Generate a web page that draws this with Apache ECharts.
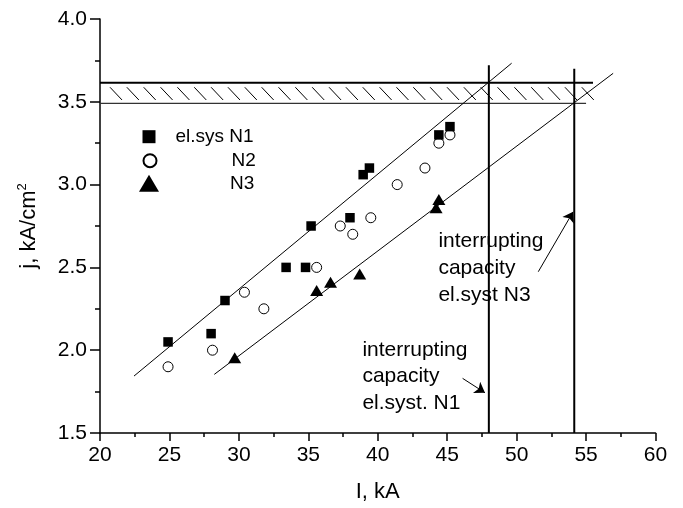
<!DOCTYPE html>
<html><head><meta charset="utf-8">
<script src="https://cdn.jsdelivr.net/npm/echarts@6/dist/echarts.min.js"></script>
<style>html,body{margin:0;padding:0;background:#fff}#c{width:683px;height:508px}</style>
</head><body><div id="c"></div>
<script>
// ---- data ----
const n1I = [24.9, 28.0, 29.0, 33.4, 34.8, 35.2, 38.0, 38.95, 39.4, 44.4, 45.2];
const n1J = [2.05, 2.10, 2.30, 2.50, 2.50, 2.75, 2.80, 3.06, 3.10, 3.30, 3.35];
const n2I = [24.9, 28.1, 30.4, 31.8, 35.6, 37.3, 38.2, 39.5, 41.4, 43.4, 44.4, 45.2];
const n2J = [1.90, 2.00, 2.35, 2.25, 2.50, 2.75, 2.70, 2.80, 3.00, 3.10, 3.25, 3.30];
const n3I = [29.7, 35.6, 36.6, 38.7, 44.2, 44.4];
const n3J = [1.955, 2.36, 2.41, 2.46, 2.86, 2.91];
const fit1I = [22.45, 49.64], fit1J = [1.844, 3.733];
const fit2I = [28.23, 56.95], fit2J = [1.854, 3.672];
const bandJ = [3.49, 3.615];
const bandTopI = [20, 55.5], bandBottomI = [20, 55.0];
const capI = [48.0, 54.15], capTopJ = [3.72, 3.70];
const arrowN1I = [46.11, 47.72], arrowN1J = [1.83, 1.743];
const arrowN3I = [51.56, 54.07], arrowN3J = [2.474, 2.836];
const noteN1 = {i: 38.86, j: 1.84, text: 'interrupting\ncapacity\nel.syst. N1'};
const noteN3 = {i: 44.33, j: 2.495, text: 'interrupting\ncapacity\nel.syst N3'};
const seriesNames = ['el.sys N1', 'N2', 'N3'];

const zip = (a, b) => a.map((v, k) => [v, b[k]]);
const FONT = "'Liberation Sans', Arial, sans-serif";

const chart = echarts.init(document.getElementById('c'), null, {renderer: 'canvas'});
const segLine = (data, width, color) => ({
  type: 'line', data, symbol: 'none', silent: true, z: 1, animation: false,
  lineStyle: {color: color || '#000', width: width, opacity: 1}
});
const note = (n) => ({
  type: 'scatter', data: [[n.i, n.j]], symbolSize: 1, silent: true,
  itemStyle: {color: '#fff', opacity: 1},
  label: {show: true, position: 'right', distance: 0, formatter: n.text, color: '#000', opacity: 1,
    fontFamily: FONT, fontSize: 21, lineHeight: 26.7, align: 'left'}
});
const legendBase = (name, top, w, h, pad) => ({
  data: [name], orient: 'vertical', left: 149 - w / 2, top: top, padding: 0,
  itemWidth: w, itemHeight: h, selectedMode: false,
  textStyle: {fontFamily: FONT, fontSize: 19, color: '#000', lineHeight: 20, padding: [0, 0, 0, pad]}
});

chart.setOption({
  animation: false,
  backgroundColor: '#fff',
  grid: {left: 100, right: 27.5, top: 19, bottom: 75},
  legend: [
    legendBase(seriesNames[0], 126.7, 13, 13, 15),
    legendBase(seriesNames[1], 150.7, 13, 13, 70),
    legendBase(seriesNames[2], 173.3, 20, 17, 66)
  ],
  xAxis: {
    type: 'value', min: 20, max: 60, interval: 5,
    name: 'I, kA', nameLocation: 'middle', nameGap: 48,
    nameTextStyle: {fontFamily: FONT, fontSize: 22, color: '#000'},
    axisLine: {lineStyle: {color: '#000', width: 1.5}},
    axisTick: {length: 8, lineStyle: {color: '#000', width: 1.5}},
    minorTick: {show: true, splitNumber: 2, length: 4, lineStyle: {color: '#000', width: 1.5}},
    axisLabel: {fontFamily: FONT, fontSize: 21, color: '#000', margin: 12},
    splitLine: {show: false}
  },
  yAxis: {
    type: 'value', min: 1.5, max: 4.0, interval: 0.5,
    name: 'j, kA/cm{s|2}', nameLocation: 'middle', nameGap: 58,
    nameTextStyle: {fontFamily: FONT, fontSize: 22, color: '#000', lineHeight: 26,
      rich: {s: {fontFamily: FONT, fontSize: 13, color: '#000', lineHeight: 13, verticalAlign: 'top'}}},
    axisLine: {show: true, lineStyle: {color: '#000', width: 1.5}},
    axisTick: {show: true, length: 10, lineStyle: {color: '#000', width: 1.5}},
    minorTick: {show: true, splitNumber: 2, length: 5, lineStyle: {color: '#000', width: 1.5}},
    axisLabel: {fontFamily: FONT, fontSize: 21, color: '#000', margin: 13,
      formatter: v => v.toFixed(1)},
    splitLine: {show: false}
  },
  series: [
    {
      type: 'custom', silent: true, z: 1, clip: false,
      encode: {x: [0, 1], y: [2, 3]},
      data: [[bandTopI[0], bandTopI[1], bandJ[0], bandJ[1]]],
      renderItem: (params, api) => {
        const tl = api.coord([api.value(0), api.value(3)]);
        const br = api.coord([api.value(1), api.value(2)]);
        const children = [];
        for (let x = tl[0] + 10; x <= br[0] - 10; x += 16.85) {
          children.push({type: 'line',
            shape: {x1: x, y1: tl[1] + 4.5, x2: x + 12, y2: br[1] - 3.5},
            style: {stroke: '#000', lineWidth: 1}});
        }
        return {type: 'group', children};
      }
    },
    segLine(zip(bandTopI, [bandJ[1], bandJ[1]]), 2),
    segLine(zip(bandBottomI, [bandJ[0], bandJ[0]]), 1.2, '#333'),
    segLine([[capI[0], 1.5], [capI[0], capTopJ[0]]], 2),
    segLine([[capI[1], 1.5], [capI[1], capTopJ[1]]], 2),
    segLine(zip(fit1I, fit1J), 1),
    segLine(zip(fit2I, fit2J), 1),
    {
      type: 'lines', coordinateSystem: 'cartesian2d', silent: true, z: 2,
      symbol: ['none', 'arrow'], symbolSize: 10,
      lineStyle: {color: '#000', width: 1, opacity: 1},
      data: [{coords: zip(arrowN1I, arrowN1J)}, {coords: zip(arrowN3I, arrowN3J)}]
    },
    note(noteN1),
    note(noteN3),
    {name: seriesNames[0], type: 'scatter', z: 4, symbol: 'rect', symbolSize: 9.5,
      itemStyle: {color: '#000', opacity: 1}, data: zip(n1I, n1J)},
    {name: seriesNames[1], type: 'scatter', z: 5, symbol: 'circle', symbolSize: 10,
      itemStyle: {color: 'rgba(255,255,255,0)', borderColor: '#000', borderWidth: 1, opacity: 1}, data: zip(n2I, n2J)},
    {name: seriesNames[2], type: 'scatter', z: 4, symbol: 'triangle', symbolSize: [13, 11],
      itemStyle: {color: '#000', opacity: 1}, data: zip(n3I, n3J)}
  ]
});
</script></body></html>
